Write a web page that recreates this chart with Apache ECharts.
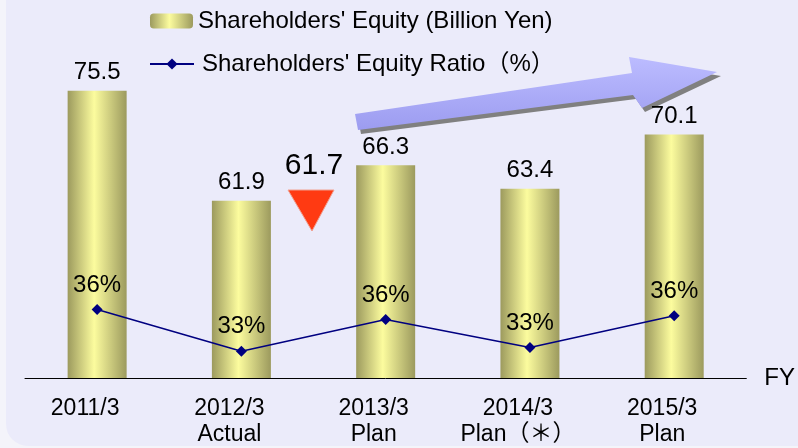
<!DOCTYPE html>
<html>
<head>
<meta charset="utf-8">
<script src="https://cdn.jsdelivr.net/npm/echarts@6/dist/echarts.min.js"></script>
<style>
  html, body { margin: 0; padding: 0; background: #f4f4fa; }
  #main { width: 798px; height: 448px; }
</style>
</head>
<body>
<div id="main"></div>
<script>
// fiscal years on the x axis
const years = ["2011/3", "2012/3\nActual", "2013/3\nPlan", "2014/3\nPlan（＊）", "2015/3\nPlan"];
// shareholders' equity, billion yen
const equity = [75.5, 61.9, 66.3, 63.4, 70.1];
// equity ratio, %
const ratio = [36.4, 33.1, 35.6, 33.4, 35.9];

const equityName = "Shareholders' Equity (Billion Yen)";
const ratioName = "Shareholders' Equity Ratio（%）";
const font = "'Liberation Sans', Arial, 'Noto Sans CJK JP', sans-serif";

var chart = echarts.init(document.getElementById("main"));

chart.setOption({
  backgroundColor: "#f4f4fa",
  animation: false,
  textStyle: { fontFamily: font, color: "#000" },
  grid: { left: 25, right: 48, top: 14, bottom: 67 },
  legend: [
    {
      data: [equityName],
      left: 150,
      top: 9,
      padding: 0,
      itemWidth: 43,
      itemHeight: 15,
      textStyle: { fontSize: 24, fontFamily: font, color: "#000" }
    },
    {
      data: [ratioName],
      left: 149,
      top: 52,
      padding: 0,
      itemWidth: 44,
      itemHeight: 14,
      textStyle: { fontSize: 24, fontFamily: font, color: "#000", padding: [0, 0, 0, 3] }
    }
  ],
  xAxis: {
    type: "category",
    data: years,
    name: "FY",
    nameLocation: "end",
    nameGap: 18,
    nameTextStyle: { fontSize: 24, fontFamily: font, color: "#000", padding: [10, 0, 0, 0] },
    axisLine: { lineStyle: { color: "#000", width: 1 } },
    axisTick: { show: false },
    axisLabel: {
      interval: 0,
      fontSize: 23,
      fontFamily: font,
      color: "#000",
      lineHeight: 26,
      margin: 18,
      padding: [0, 24, 0, 0]
    }
  },
  yAxis: [
    { type: "value", min: 40, max: 85, show: false, splitLine: { show: false } },
    { type: "value", min: 31, max: 59.67, show: false, splitLine: { show: false } }
  ],
  series: [
    {
      name: equityName,
      type: "bar",
      data: equity,
      barWidth: 59,
      itemStyle: {
        color: new echarts.graphic.LinearGradient(0, 0, 1, 0, [
          { offset: 0, color: "#9c9a5e" },
          { offset: 0.45, color: "#fcfc9e" },
          { offset: 1, color: "#9c9a5e" }
        ])
      },
      label: {
        show: true,
        position: "top",
        distance: 6,
        fontSize: 24,
        fontFamily: font,
        color: "#000"
      }
    },
    {
      name: ratioName,
      type: "line",
      yAxisIndex: 1,
      data: ratio,
      color: "#000080",
      symbol: "diamond",
      symbolSize: 11,
      lineStyle: { color: "#000080", width: 1.5 },
      itemStyle: { color: "#000080" },
      z: 5,
      label: {
        show: true,
        position: "top",
        distance: 7,
        fontSize: 24,
        fontFamily: font,
        color: "#000",
        formatter: p => Math.round(p.value) + "%"
      }
    }
  ],
  graphic: [
    {
      type: "rect",
      z: -100,
      silent: true,
      shape: { x: 6, y: -30, width: 840, height: 476, r: 22 },
      style: { fill: "#ebebfa" }
    },
    {
      type: "polygon",
      z: 1,
      silent: true,
      shape: {
        points: [[358, 118], [635, 77], [632, 61], [721, 76], [645, 112], [636, 99], [361, 134]]
      },
      style: { fill: "#808080" }
    },
    {
      type: "polygon",
      z: 2,
      silent: true,
      shape: {
        points: [[355, 114], [632, 73], [629, 57], [717, 72], [642, 108], [633, 95], [358, 130]]
      },
      style: {
        fill: new echarts.graphic.LinearGradient(0, 0, 0, 1, [
          { offset: 0, color: "#bcbcff" },
          { offset: 1, color: "#9c9cf0" }
        ])
      }
    },
    {
      type: "polygon",
      z: 2,
      silent: true,
      shape: { points: [[288, 190], [334, 190], [312, 231]] },
      style: { fill: "#ff3a12", stroke: "#f0a090", lineWidth: 1 }
    },
    {
      type: "text",
      z: 3,
      silent: true,
      x: 314,
      y: 166,
      style: {
        text: "61.7",
        fontSize: 30,
        fontFamily: font,
        fill: "#000",
        align: "center",
        verticalAlign: "middle"
      }
    }
  ]
});
</script>
</body>
</html>
